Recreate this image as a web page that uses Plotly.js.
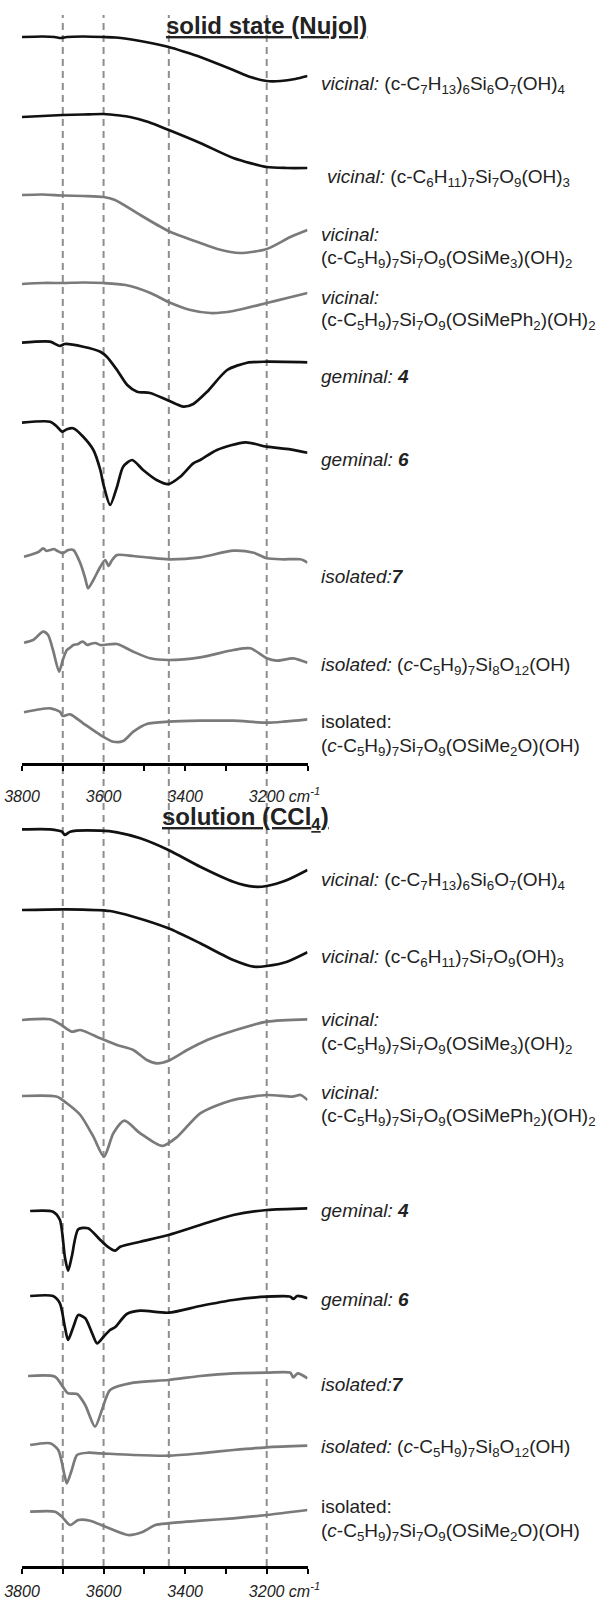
<!DOCTYPE html>
<html><head><meta charset="utf-8">
<script src="https://cdn.plot.ly/plotly-3.0.1.min.js"></script>
<style>html,body{margin:0;padding:0;background:#fff}</style>
</head><body><div id="chart" style="width:600px;height:1600px"></div>
<script>
// ---------- DATA (wavenumber in cm-1, stacked transmittance in arb. units) ----------
const tickValues = [3800, 3700, 3600, 3500, 3400, 3300, 3200, 3100];
const tickLabels = ['3800', '', '3600', '', '3400', '', '3200', ''];
const unitLabel = 'cm<sup>-1</sup>';
const markerWavenumbers = [3700, 3600, 3440, 3200];
const panelTitles = ['solid state (Nujol)', 'solution (CCl<sub>4</sub>)'];

const seriesLabels = [
  ['<i>vicinal:</i> (c-C<sub>7</sub>H<sub>13</sub>)<sub>6</sub>Si<sub>6</sub>O<sub>7</sub>(OH)<sub>4</sub>'],
  ['<i>vicinal:</i> (c-C<sub>6</sub>H<sub>11</sub>)<sub>7</sub>Si<sub>7</sub>O<sub>9</sub>(OH)<sub>3</sub>'],
  ['<i>vicinal:</i>', '(c-C<sub>5</sub>H<sub>9</sub>)<sub>7</sub>Si<sub>7</sub>O<sub>9</sub>(OSiMe<sub>3</sub>)(OH)<sub>2</sub>'],
  ['<i>vicinal:</i>', '(c-C<sub>5</sub>H<sub>9</sub>)<sub>7</sub>Si<sub>7</sub>O<sub>9</sub>(OSiMePh<sub>2</sub>)(OH)<sub>2</sub>'],
  ['<i>geminal:</i> <b><i>4</i></b>'],
  ['<i>geminal:</i> <b><i>6</i></b>'],
  ['<i>isolated:</i><b><i>7</i></b>'],
  ['<i>isolated:</i> (<i>c</i>-C<sub>5</sub>H<sub>9</sub>)<sub>7</sub>Si<sub>8</sub>O<sub>12</sub>(OH)'],
  ['isolated:', '(<i>c</i>-C<sub>5</sub>H<sub>9</sub>)<sub>7</sub>Si<sub>7</sub>O<sub>9</sub>(OSiMe<sub>2</sub>O)(OH)']
];

// solid state (Nujol)
const nujol1Wn = [3800,3750,3720,3705,3690,3650,3600,3570,3510,3440,3400,3363,3282,3240,3200,3166,3130,3100];
const nujol1T  = [726,726.5,726,725,726,726.5,726,725.5,722,716,711,706,693,686,682,682,684,687];
const nujol2Wn = [3800,3750,3700,3650,3600,3560,3535,3490,3440,3363,3282,3200,3150,3100];
const nujol2T  = [646,647,648,648.5,649,647.5,646,641,633,620,605,596,595,595];
const nujol3Wn = [3800,3750,3700,3650,3600,3572,3510,3441,3363,3321,3265,3200,3142,3100];
const nujol3T  = [568,568.5,567.5,567,566,563,548,532,520,514,510,514,526,533];
const nujol4Wn = [3800,3750,3700,3650,3600,3546,3485,3441,3387,3338,3282,3200,3150,3100];
const nujol4T  = [479,480,480,480.5,480,478,470,461,453,450,452,460,465,470];
const nujol5Wn = [3800,3731,3707,3695,3650,3608,3592,3567,3542,3518,3486,3444,3404,3380,3346,3297,3248,3200,3100];
const nujol5T  = [420.3,421.3,417,419,416.3,411.3,406.3,393,378,371.3,370,363,356.3,359,371.3,393,400.3,401.3,400.7];
const nujol6Wn = [3800,3731,3714,3702,3690,3675,3650,3625,3608,3600,3584,3567,3552,3530,3503,3470,3441,3412,3380,3363,3322,3252,3200,3142,3100];
const nujol6T  = [340.3,341.3,336.3,331.3,333.7,334.7,326.3,313,293,278,258,276.3,296.3,303,293,283,279,286.3,299.7,303,313,320.7,316.3,313.7,310.3];
const nujol7Wn = [3795,3785,3773,3760,3748,3740,3731,3722,3714,3700,3687,3674,3657,3645,3638,3625,3608,3596,3588,3579,3567,3527,3486,3441,3363,3282,3232,3200,3159,3117,3100];
const nujol7T  = [206.3,207.5,209,211,214.7,212,213,214,212.3,209.7,213,213,199.7,184.7,174.7,183,196.3,203,197,203,208,207,205.3,203.7,205.7,212.3,210.3,204.7,203.7,203.7,200.3];
const nujol8Wn = [3795,3773,3748,3736,3724,3709,3700,3690,3680,3674,3662,3655,3650,3640,3633,3620,3608,3567,3527,3486,3441,3363,3282,3240,3200,3176,3135,3100];
const nujol8T  = [120.3,123,131.3,128,113,91.3,103,113,116,118,119,121,121.3,118,119,120,118,119,111.3,104.7,103,105.7,113,114.7,104.7,102.3,104.7,100.3];
const nujol9Wn = [3795,3731,3707,3700,3682,3650,3608,3576,3552,3527,3494,3441,3363,3282,3200,3159,3100];
const nujol9T  = [50.7,54.7,51.3,47,48.7,39.7,28,21.3,22,31.3,39,41.3,42.3,42.3,40.3,41.3,43.7];

// solution (CCl4)
const ccl1Wn = [3800,3731,3702,3695,3682,3608,3567,3510,3441,3363,3282,3232,3200,3150,3100];
const ccl1T  = [736.7,736.7,734.3,731,734.3,735.3,733.7,727.7,716,699.3,684.3,679.3,680,686,696];
const ccl2Wn = [3800,3690,3584,3527,3441,3363,3282,3232,3200,3150,3100];
const ccl2T  = [656,656.7,655,649.3,637.7,622.7,606,599.3,600,604.3,613.7];
const ccl3Wn = [3800,3731,3707,3678,3657,3608,3567,3527,3494,3469,3441,3395,3346,3289,3200,3100];
const ccl3T  = [546,546.7,542,534.3,536,527.7,521,516,506,502.7,505.3,516,526,534.3,544.3,546.7];
const ccl4Wn = [3800,3714,3690,3657,3625,3599,3576,3549,3510,3456,3419,3363,3289,3200,3137,3117,3100];
const ccl4T  = [470,469.3,462.7,451,429.3,409.3,432.7,445.3,432.7,420,429.3,452.7,465.3,471,469.3,471,466];
const ccl5Wn = [3780,3724,3707,3695,3687,3678,3662,3638,3608,3592,3572,3559,3510,3441,3363,3282,3200,3100];
const ccl5T  = [355,354.3,346,309.3,295.3,309.3,336.7,337.7,326,320,315.3,319.3,324.3,331,341,351,356,357.7];
const ccl6Wn = [3780,3724,3707,3695,3687,3674,3662,3645,3628,3616,3600,3584,3572,3543,3510,3441,3363,3282,3200,3142,3135,3125,3100];
const ccl6T  = [270,270,262.7,239.3,226,239.3,251,247.7,232.7,222.7,229.3,236,238.7,252,255.3,253.3,260,266,269.3,269.3,267,270,267.7];
const ccl7Wn = [3785,3719,3700,3687,3665,3645,3621,3604,3584,3527,3441,3363,3282,3200,3142,3135,3124,3100];
const ccl7T  = [190,189.3,179.3,172.7,172,161,139.3,156,176,183.3,186,190,192.7,193.3,193.3,188.7,192.7,187.7];
const ccl8Wn = [3780,3731,3711,3695,3690,3678,3665,3638,3608,3527,3441,3363,3282,3200,3100];
const ccl8T  = [121,122.7,116,89.3,82.7,96,111,113.3,112.7,111,110.3,112.7,116,118.7,120.3];
const ccl9Wn = [3780,3719,3702,3682,3662,3633,3592,3540,3503,3473,3441,3363,3282,3200,3100];
const ccl9T  = [54.3,54.3,49.3,41,46,45.3,38.7,31,34.3,41,42.7,45.3,47.7,51,56];

// ---------- STYLE / LAYOUT ----------
const BLACK = '#111111', GRAY = '#7a7a7a';
const seriesColors = [BLACK, BLACK, GRAY, GRAY, BLACK, BLACK, GRAY, GRAY, GRAY];
const nujolSeries = [[nujol1Wn,nujol1T],[nujol2Wn,nujol2T],[nujol3Wn,nujol3T],[nujol4Wn,nujol4T],[nujol5Wn,nujol5T],[nujol6Wn,nujol6T],[nujol7Wn,nujol7T],[nujol8Wn,nujol8T],[nujol9Wn,nujol9T]];
const cclSeries = [[ccl1Wn,ccl1T],[ccl2Wn,ccl2T],[ccl3Wn,ccl3T],[ccl4Wn,ccl4T],[ccl5Wn,ccl5T],[ccl6Wn,ccl6T],[ccl7Wn,ccl7T],[ccl8Wn,ccl8T],[ccl9Wn,ccl9T]];

const W = 600, H = 1600;
const px = p => p / W, py = p => 1 - p / H;
const FONT = 'Liberation Sans, Arial, Helvetica, sans-serif';

const traces = [];
function addPanel(series, xa, ya) {
  series.forEach((s, i) => {
    traces.push({
      x: s[0], y: s[1], xaxis: xa, yaxis: ya, mode: 'lines', hoverinfo: 'skip',
      line: {color: seriesColors[i], width: 2.7, shape: 'spline', smoothing: 0.7}
    });
  });
}
addPanel(nujolSeries, 'x', 'y');
addPanel(cclSeries, 'x2', 'y2');

// tick text: unit appended to the 3200 label, padded on the left so the number stays centred on its tick
const NBSP = '\u00a0';
const tickText = tickLabels.map(t => t === '3200' ? NBSP.repeat(8) + t + ' ' + unitLabel : t);

function xAxis(anchor, standoff) {
  return {
    domain: [px(22), px(307.5)], range: [3800, 3100], anchor: anchor,
    tickmode: 'array', tickvals: tickValues, ticktext: tickText,
    ticks: 'outside', ticklen: 5, tickwidth: 2, tickcolor: '#000',
    showline: true, linecolor: '#000', linewidth: 3,
    showgrid: false, zeroline: false, ticklabelstandoff: standoff,
    tickfont: {family: FONT, size: 16, color: '#222', style: 'italic'}
  };
}

const annotations = [];
function label(text, xPix, yPix, size, extra) {
  annotations.push(Object.assign({
    text: text, xref: 'paper', yref: 'paper', x: px(xPix), y: py(yPix),
    xanchor: 'left', yanchor: 'middle', showarrow: false,
    font: {family: FONT, size: size, color: '#222'}
  }, extra || {}));
}
const topLabelY = [[85], [178], [234, 259], [297, 321], [376], [459], [576], [666], [721, 747]];
const botLabelY = [[881], [958], [1020, 1045], [1092, 1117], [1210], [1299], [1384], [1448], [1506, 1532]];
const topLabelX = [319, 325, 319, 319, 319, 319, 319, 319, 319];
seriesLabels.forEach((lines, i) => {
  lines.forEach((t, j) => {
    label(t, topLabelX[i], topLabelY[i][j], 19);
    label(t, 319, botLabelY[i][j], 19);
  });
});
// panel titles
label('<b><span style="text-decoration:underline">' + panelTitles[0] + '</span></b>', 266, 26, 24, {xanchor: 'center'});
label('<b><span style="text-decoration:underline">' + panelTitles[1] + '</span></b>', 246, 818, 24, {xanchor: 'center'});

const shapes = markerWavenumbers.map(wn => ({
  type: 'line', xref: 'x', yref: 'paper', x0: wn, x1: wn, y0: py(1566), y1: py(15),
  layer: 'below', line: {color: '#8e8e8e', width: 2, dash: '7px,5px'}
}));

const layout = {
  width: W, height: H, margin: {l: 0, r: 0, t: 0, b: 0},
  paper_bgcolor: '#fff', plot_bgcolor: 'rgba(0,0,0,0)', showlegend: false,
  xaxis: xAxis('y', 12),
  xaxis2: xAxis('y2', 4),
  yaxis: {domain: [py(763), 1], range: [0, 763], visible: false, fixedrange: true},
  yaxis2: {domain: [py(1566), py(800)], range: [0, 766], visible: false, fixedrange: true},
  annotations: annotations, shapes: shapes
};

Plotly.newPlot('chart', traces, layout, {staticPlot: true});
</script>
</body></html>
